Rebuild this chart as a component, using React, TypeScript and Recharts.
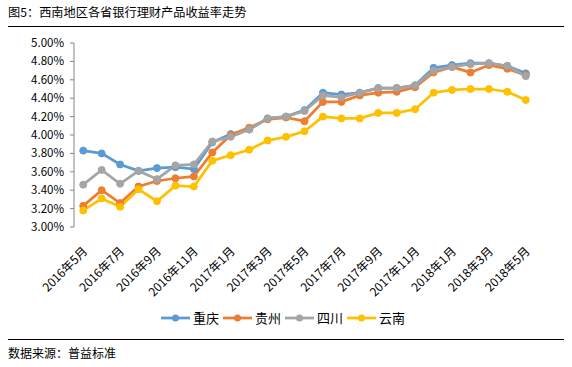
import React from 'react';
import { LineChart, Line, XAxis, YAxis } from 'recharts';

const months = [
  '2016年5月', '2016年6月', '2016年7月', '2016年8月', '2016年9月', '2016年10月', '2016年11月', '2016年12月',
  '2017年1月', '2017年2月', '2017年3月', '2017年4月', '2017年5月', '2017年6月', '2017年7月', '2017年8月',
  '2017年9月', '2017年10月', '2017年11月', '2017年12月', '2018年1月', '2018年2月', '2018年3月', '2018年4月', '2018年5月',
];

const chongqing = [3.83, 3.80, 3.68, 3.61, 3.64, 3.65, 3.63, 3.92, 4.01, 4.06, 4.18, 4.20, 4.27, 4.46, 4.44, 4.46, 4.51, 4.51, 4.54, 4.73, 4.76, 4.78, 4.78, 4.75, 4.67];
const guizhou = [3.23, 3.40, 3.26, 3.44, 3.50, 3.53, 3.55, 3.81, 4.00, 4.08, 4.17, 4.19, 4.15, 4.36, 4.36, 4.43, 4.46, 4.47, 4.52, 4.68, 4.74, 4.68, 4.76, 4.72, 4.65];
const sichuan = [3.46, 3.62, 3.47, 3.61, 3.52, 3.67, 3.68, 3.93, 3.98, 4.06, 4.18, 4.20, 4.26, 4.43, 4.41, 4.46, 4.51, 4.51, 4.54, 4.70, 4.74, 4.77, 4.78, 4.75, 4.64];
const yunnan = [3.18, 3.31, 3.22, 3.41, 3.28, 3.45, 3.44, 3.72, 3.78, 3.84, 3.94, 3.98, 4.04, 4.20, 4.18, 4.18, 4.24, 4.24, 4.28, 4.46, 4.49, 4.50, 4.50, 4.47, 4.38];

const yTicks = [3.0, 3.2, 3.4, 3.6, 3.8, 4.0, 4.2, 4.4, 4.6, 4.8, 5.0];

const series = [
  { key: 'cq', name: '重庆', color: '#5B9BD5', values: chongqing },
  { key: 'gz', name: '贵州', color: '#ED7D31', values: guizhou },
  { key: 'sc', name: '四川', color: '#A5A5A5', values: sichuan },
  { key: 'yn', name: '云南', color: '#FFC000', values: yunnan },
];

const data = months.map((m, i) => {
  const row: any = { idx: i, month: m };
  series.forEach((s) => { row[s.key] = s.values[i]; });
  return row;
});

const labelTicks = months.map((_, i) => i).filter((i) => i % 2 === 0);
const boundaryTicks = labelTicks.map((i) => i - 0.5);
const xDomain = [-0.5, months.length - 0.5];

const FONT = '"Noto Sans CJK SC", "Noto Sans", sans-serif';
const AXIS_COLOR = '#868686';

const MonthTick = (props: any) => {
  const { x, y, payload } = props;
  return (
    <g transform={`translate(${x + 5},${y + 25})`}>
      <text x={0} y={0} textAnchor="end" transform="rotate(-45)" fontSize={12} fill="#000" fontFamily={FONT}>
        {months[payload.value]}
      </text>
    </g>
  );
};

export default function App() {
  return (
    <div style={{ position: 'absolute', left: 0, top: 0, width: 572, height: 367, background: '#fff', fontFamily: FONT }}>
      <div style={{ position: 'absolute', left: 8, top: 3, fontSize: 12.2, lineHeight: '18px', color: '#000', whiteSpace: 'nowrap' }}>
        图5：西南地区各省银行理财产品收益率走势
      </div>
      <div style={{ position: 'absolute', left: 8, top: 26, width: 556, height: 1, background: '#000' }} />
      <div style={{ position: 'absolute', left: 0, top: 0 }}>
        <LineChart width={572} height={367} data={data} margin={{ top: 43, right: 37, left: 0, bottom: 79 }}>
          <XAxis
            xAxisId="bound"
            type="number"
            dataKey="idx"
            domain={xDomain}
            ticks={boundaryTicks}
            tick={false}
            tickSize={4}
            height={0}
            stroke={AXIS_COLOR}
            allowDecimals
            interval={0}
          />
          <XAxis
            xAxisId="cat"
            type="number"
            dataKey="idx"
            domain={xDomain}
            ticks={labelTicks}
            axisLine={false}
            tickLine={false}
            tickSize={0}
            tickMargin={0}
            interval={0}
            height={61}
            tick={<MonthTick />}
          />
          <YAxis
            type="number"
            domain={[3, 5]}
            ticks={yTicks}
            interval={0}
            width={74}
            tickSize={4}
            tickMargin={6}
            stroke={AXIS_COLOR}
            tick={{ fill: '#000', fontSize: 11.5, fontFamily: FONT }}
            tickFormatter={(v: number) => v.toFixed(2) + '%'}
          />
          {series.map((s) => (
            <Line
              key={s.key}
              xAxisId="cat"
              type="linear"
              dataKey={s.key}
              name={s.name}
              stroke={s.color}
              strokeWidth={2.75}
              dot={{ r: 3.5, fill: s.color, stroke: s.color, strokeWidth: 1 }}
              activeDot={false}
              isAnimationActive={false}
            />
          ))}
        </LineChart>
      </div>
      <div style={{ position: 'absolute', left: 0, top: 309, width: 566, height: 18, display: 'flex', justifyContent: 'center', alignItems: 'center' }}>
        {series.map((s, i) => (
          <div key={s.key} style={{ display: 'flex', alignItems: 'center', marginLeft: i === 0 ? 0 : 4 }}>
            <svg width={29} height={10}>
              <line x1={0} y1={5} x2={29} y2={5} stroke={s.color} strokeWidth={2.75} />
              <circle cx={14.5} cy={5} r={3.5} fill={s.color} />
            </svg>
            <span style={{ marginLeft: 3, fontSize: 13, lineHeight: '18px', color: '#000' }}>{s.name}</span>
          </div>
        ))}
      </div>
      <div style={{ position: 'absolute', left: 8, top: 339, width: 556, height: 1, background: '#000' }} />
      <div style={{ position: 'absolute', left: 8, top: 344, fontSize: 12, lineHeight: '18px', color: '#000', whiteSpace: 'nowrap' }}>
        数据来源：普益标准
      </div>
    </div>
  );
}
